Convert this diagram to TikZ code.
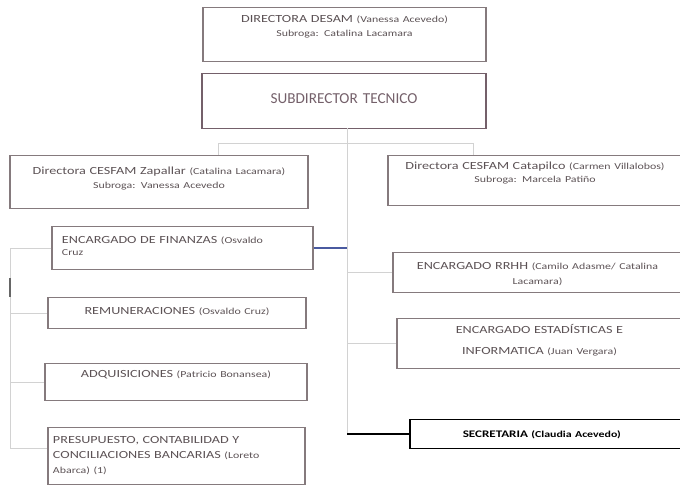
\documentclass[tikz,border=0pt]{standalone}
\usepackage{fontspec}
\setmainfont[FakeStretch=1.3]{Carlito}
\newfontfamily\plainfont{Carlito}
\usepackage{xcolor}
\usepackage{tikz}

\definecolor{boxgray}{HTML}{857A7D}
\definecolor{textgray}{HTML}{5C5255}
\definecolor{linegray}{HTML}{D2D2D2}
\definecolor{finblue}{HTML}{4A5AA0}
\definecolor{mauve}{HTML}{74606A}
\newcommand{\who}[1]{{\fontsize{7.8}{12}\selectfont #1}}

\begin{document}
\begin{tikzpicture}[x=0.03cm, y=-0.03cm,
        box/.style={rectangle, draw=boxgray, line width=0.9pt, anchor=north, inner xsep=0pt, inner ysep=0pt, text=textgray, align=center, font=\fontsize{9.3}{12}\selectfont},
        leftbox/.style={box, align=left},
        link/.style={draw=linegray, line width=0.8pt},
        finlink/.style={draw=finblue, line width=1pt},
        seclink/.style={draw=black, line width=1.2pt}
    ]
        \useasboundingbox (0,0) rectangle (680,486);

        \node[box, text width=8.49cm, text height=0.435cm, text depth=1.185cm] (desam) at (344.5,7) {DIRECTORA DESAM \who{(Vanessa Acevedo)}\\ \who{Subroga: Catalina Lacamara}};
        \node[box, draw=mauve, text=mauve, text width=8.52cm, text height=0.9cm, text depth=0.75cm, font=\plainfont\fontsize{13}{15}\selectfont] (subdir) at (344,73) {SUBDIRECTOR TECNICO};

        \node[box, text width=8.94cm, text height=0.57cm, text depth=1.02cm] (zap) at (159,155) {Directora CESFAM Zapallar \who{(Catalina Lacamara)}\\ \who{Subroga: Vanessa Acevedo}};
        \node[box, text width=8.82cm, text height=0.42cm, text depth=1.08cm] (cat) at (535,155) {Directora CESFAM Catapilco \who{(Carmen Villalobos)}\\[-1pt] \who{Subroga: Marcela Patiño}};

        \node[leftbox, inner xsep=0.3cm, text width=7.23cm, text height=0.51cm, text depth=0.78cm] (fin) at (182.5,226) {ENCARGADO DE FINANZAS \who{(Osvaldo}\\[-1.8pt] \who{Cruz}};
        \node[box, text width=7.74cm, text height=0.51cm, text depth=0.42cm] (rem) at (177,297) {REMUNERACIONES \who{(Osvaldo Cruz)}};
        \node[box, text width=7.86cm, text height=0.42cm, text depth=0.69cm] (adq) at (176,363) {ADQUISICIONES \who{(Patricio Bonansea)}};
        \node[leftbox, inner xsep=0.15cm, text width=7.41cm, text height=0.48cm, text depth=1.23cm] (pres) at (176.5,427) {PRESUPUESTO, CONTABILIDAD Y\\[0.8pt] CONCILIACIONES BANCARIAS \who{(Loreto}\\[0.8pt] \who{Abarca) (1)}};

        \node[box, text width=8.67cm, text height=0.51cm, text depth=0.69cm] (rrhh) at (537.5,252) {ENCARGADO RRHH \who{(Camilo Adasme/ Catalina}\\[0.8pt] \who{Lacamara)}};
        \node[box, text width=8.55cm, text height=0.45cm, text depth=1.05cm] (est) at (539.5,318) {ENCARGADO ESTADÍSTICAS E\\[6pt] INFORMATICA \who{(Juan Vergara)}};
        \node[box, draw=black, text=black, line width=1.1pt, text width=8.16cm, text height=0.54cm, text depth=0.33cm, font=\bfseries\fontsize{8.6}{12}\selectfont] (secr) at (546,419) {SECRETARIA \who{(Claudia Acevedo)}\hspace*{0.25cm}};

        \coordinate (trunk) at (347,128);
        \coordinate (barL) at (218,143);
        \coordinate (barR) at (473,143);
        \coordinate (ltrunk) at (10,248);
        \coordinate (presin) at ([yshift=0.22cm]pres.west);

        \draw[link] (trunk) -- (trunk |- secr.west);
        \draw[link] (barL |- zap.north) -- (barL) -- (barR) -- (barR |- cat.north);
        \draw[link] (trunk |- rrhh.west) -- (rrhh.west);
        \draw[link] (trunk |- est.west) -- (est.west);
        \draw[seclink] (trunk |- secr.west) -- (secr.west);
        \draw[finlink] (fin.east) -- (fin.east -| trunk);

        \draw[link] (fin.west) -- (fin.west -| ltrunk) -- (ltrunk |- presin) -- (presin);
        \draw[link] (ltrunk |- rem.west) -- (rem.west);
        \draw[link] (ltrunk |- adq.west) -- (adq.west);
        \draw[draw=gray!80!black, line width=1.4pt] (10,278) -- (10,297);
    \end{tikzpicture}
\end{document}
